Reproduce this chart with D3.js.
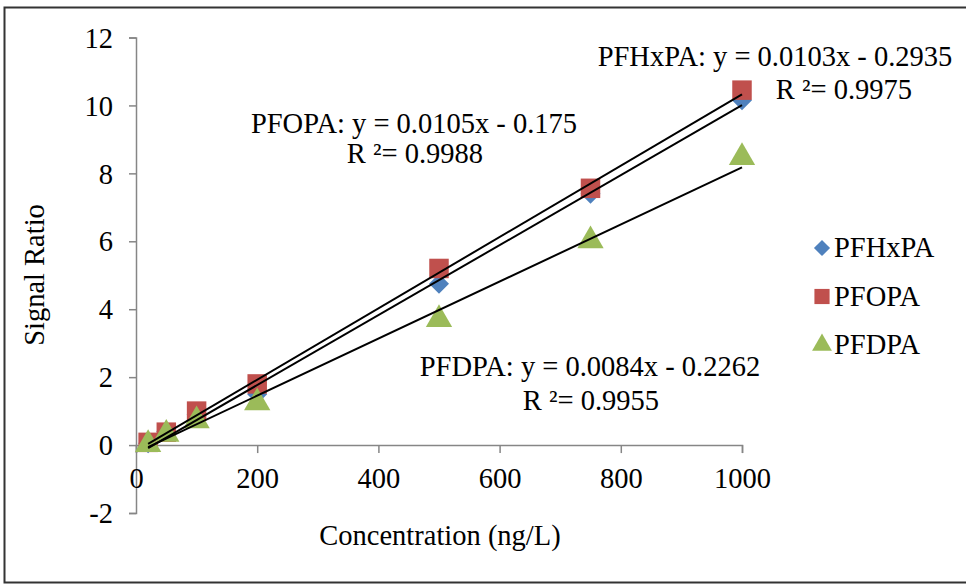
<!DOCTYPE html>
<html>
<head>
<meta charset="utf-8">
<script src="https://cdn.jsdelivr.net/npm/d3@7"></script>
</head>
<body style="margin:0; background:#fff">
<div id="chart"></div>
<script>
// concentrations (ng/L)
const concentrations = [20, 50, 100, 200, 500, 750, 1000];

// signal ratios
const pfhxpa = [0.05, 0.4, 0.9, 1.5, 4.75, 7.4, 10.15];
const pfopa = [0.08, 0.38, 1.0, 1.8, 5.2, 7.56, 10.45];
const pfdpa = [0.02, 0.32, 0.72, 1.25, 3.7, 6.02, 8.47];

const seriesNames = ["PFHxPA", "PFOPA", "PFDPA"];
const seriesColors = ["#4f81bd", "#c0504d", "#9bbb59"];
const slopes = [0.0103, 0.0105, 0.0084];
const intercepts = [-0.2935, -0.175, -0.2262];
const eqLabels = ["PFHxPA: y = 0.0103x - 0.2935", "PFOPA: y = 0.0105x - 0.175", "PFDPA: y = 0.0084x - 0.2262"];
const r2Labels = ["R ²= 0.9975", "R ²= 0.9988", "R ²= 0.9955"];

const xTicks = [0, 200, 400, 600, 800, 1000];
const yTicks = [-2, 0, 2, 4, 6, 8, 10, 12];

const width = 966, height = 584;
const serif = "'Liberation Serif'";
const fontSize = 28.5;

const svg = d3.select("#chart").append("svg")
    .attr("width", width)
    .attr("height", height);

// outer frame
svg.append("rect")
    .attr("x", 4.5).attr("y", 7.5)
    .attr("width", 1000).attr("height", 575)
    .attr("fill", "none")
    .attr("stroke", "#333")
    .attr("stroke-width", 2);

const x = d3.scaleLinear().domain([0, 1000]).range([136, 742]);
const y = d3.scaleLinear().domain([-2, 12]).range([513, 37.5]);

function serifText(sel) {
    sel.style("font-family", serif).style("font-size", fontSize + "px").attr("fill", "#000");
}

// y axis
const yAxis = svg.append("g")
    .attr("transform", `translate(${x(0)},0)`)
    .call(d3.axisLeft(y).tickValues(yTicks).tickSize(7).tickPadding(16).tickFormat(d => String(d)));
yAxis.select(".domain").attr("stroke", "#868686").attr("stroke-width", 1.5);
yAxis.selectAll(".tick line").attr("stroke", "#868686").attr("stroke-width", 1.5);
yAxis.selectAll(".tick text").call(serifText).attr("dy", "0.34em");

// x axis at y = 0
const xAxis = svg.append("g")
    .attr("transform", `translate(0,${y(0)})`)
    .call(d3.axisBottom(x).tickValues(xTicks).tickSize(8).tickPadding(15).tickFormat(d => String(d)));
xAxis.select(".domain").attr("stroke", "#868686").attr("stroke-width", 1.5);
xAxis.selectAll(".tick line").attr("stroke", "#868686").attr("stroke-width", 1.5);
xAxis.selectAll(".tick text").call(serifText);

// axis titles
svg.append("text")
    .attr("x", 440).attr("y", 545)
    .attr("text-anchor", "middle")
    .call(serifText)
    .text("Concentration (ng/L)");

svg.append("text")
    .attr("transform", "translate(44,275) rotate(-90)")
    .attr("text-anchor", "middle")
    .call(serifText)
    .text("Signal Ratio");

const allSeries = [pfhxpa, pfopa, pfdpa];
const sym = [d3.symbolSquare, d3.symbolSquare, d3.symbolTriangle];
const symSize = [200, 380, 300];

// markers
allSeries.forEach((vals, i) => {
    svg.append("g").selectAll("path")
        .data(concentrations.map((c, j) => [c, vals[j]]))
        .join("path")
        .attr("transform", d => `translate(${x(d[0])},${y(d[1])})${i === 0 ? " rotate(45)" : ""}`)
        .attr("d", d3.symbol().type(sym[i]).size(symSize[i]))
        .attr("fill", seriesColors[i]);
});

// linear trend lines
const line = d3.line().x(d => x(d[0])).y(d => y(d[1]));
allSeries.forEach((vals, i) => {
    const x0 = concentrations[0], x1 = concentrations[concentrations.length - 1];
    svg.append("path")
        .attr("d", line([[x0, slopes[i] * x0 + intercepts[i]], [x1, slopes[i] * x1 + intercepts[i]]]))
        .attr("stroke", "#000")
        .attr("stroke-width", 2)
        .attr("fill", "none");
});

// equation labels
const eqPos = [[775, 66, 844, 99], [414, 133, 415, 163], [590, 376, 591, 410]];
eqPos.forEach((p, i) => {
    svg.append("text").attr("x", p[0]).attr("y", p[1])
        .attr("text-anchor", "middle").call(serifText).text(eqLabels[i]);
    svg.append("text").attr("x", p[2]).attr("y", p[3])
        .attr("text-anchor", "middle").call(serifText).text(r2Labels[i]);
});

// legend
const legend = svg.append("g");
seriesNames.forEach((name, i) => {
    const ly = 248 + i * 48.5;
    legend.append("path")
        .attr("transform", `translate(822,${ly})${i === 0 ? " rotate(45)" : ""}`)
        .attr("d", d3.symbol().type(sym[i]).size([130, 230, 170][i]))
        .attr("fill", seriesColors[i]);
    legend.append("text")
        .attr("x", 834).attr("y", ly + 9)
        .call(serifText)
        .text(name);
});
</script>
</body>
</html>
